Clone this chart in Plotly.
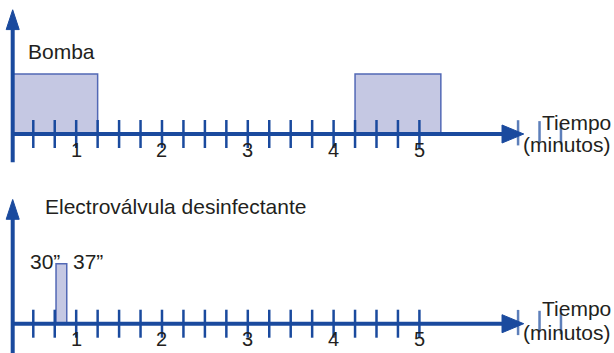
import plotly.graph_objects as go

# ---- data (minutes) ----
bomba_intervals = [(0.26, 1.25), (4.25, 5.25)]
valve_intervals = [(0.765, 0.89)]
tick_positions = [0.5, 0.75, 1.0, 1.25, 1.5, 1.75, 2.0, 2.25, 2.5, 2.75,
                  3.0, 3.25, 3.5, 3.75, 4.0, 4.25, 4.5, 4.75, 5.0]
extra_ticks = [6.15, 6.40, 6.65]
tick_labels = ["1", "2", "3", "4", "5"]
tick_label_values = [1, 2, 3, 4, 5]
valve_labels = ["30\u201d", "37\u201d"]

# ---- styling / geometry constants ----
AX = "#1a4a9e"
FILL = "#c5c8e3"
EDGE = "#5268b5"
TXT = "#231f20"
FONT = "Liberation Sans, Arial, sans-serif"
origin_x = 0.26
arrow_base_x, arrow_tip_x, arrow_half_h = 5.963, 6.216, 0.15
yarrow_base, yarrow_tip, yarrow_half_w = 1.74, 2.07, 0.076

fig = go.Figure()

panels = [("x", "y", bomba_intervals, -0.47), ("x2", "y2", valve_intervals, -0.6)]
for xa, ya, intervals, ybottom in panels:
    # boxes
    fig.add_trace(go.Bar(
        x=[(a + b) / 2 for a, b in intervals],
        y=[1.0] * len(intervals),
        width=[b - a for a, b in intervals],
        marker=dict(color=FILL, line=dict(color=EDGE, width=1.5)),
        xaxis=xa, yaxis=ya, showlegend=False, hoverinfo="skip"))
    # horizontal axis line
    fig.add_trace(go.Scatter(x=[origin_x, arrow_base_x + 0.02], y=[0, 0], mode="lines",
                             line=dict(color=AX, width=4), xaxis=xa, yaxis=ya,
                             showlegend=False, hoverinfo="skip"))
    # horizontal arrowhead
    fig.add_trace(go.Scatter(x=[arrow_base_x, arrow_tip_x, arrow_base_x, arrow_base_x],
                             y=[arrow_half_h, 0, -arrow_half_h, arrow_half_h],
                             mode="lines", fill="toself", fillcolor=AX,
                             line=dict(color=AX, width=1), xaxis=xa, yaxis=ya,
                             showlegend=False, hoverinfo="skip"))
    # vertical axis line
    fig.add_trace(go.Scatter(x=[origin_x, origin_x], y=[ybottom, yarrow_base + 0.02],
                             mode="lines", line=dict(color=AX, width=4),
                             xaxis=xa, yaxis=ya, showlegend=False, hoverinfo="skip"))
    # vertical arrowhead
    fig.add_trace(go.Scatter(x=[origin_x - yarrow_half_w, origin_x, origin_x + yarrow_half_w,
                                origin_x - yarrow_half_w],
                             y=[yarrow_base, yarrow_tip, yarrow_base, yarrow_base],
                             mode="lines", fill="toself", fillcolor=AX,
                             line=dict(color=AX, width=1), xaxis=xa, yaxis=ya,
                             showlegend=False, hoverinfo="skip"))
    # ticks
    fig.add_trace(go.Scatter(x=tick_positions, y=[0] * len(tick_positions), mode="markers",
                             marker=dict(symbol="line-ns", size=20,
                                         line=dict(color=AX, width=2.5)),
                             xaxis=xa, yaxis=ya, showlegend=False, hoverinfo="skip"))
    fig.add_trace(go.Scatter(x=extra_ticks, y=[0.02, 0.04, 0.0], mode="markers",
                             marker=dict(symbol="line-ns", size=[18, 15, 15],
                                         line=dict(color=AX, width=2.5)),
                             xaxis=xa, yaxis=ya, showlegend=False, hoverinfo="skip"))
    # tick labels
    for v, t in zip(tick_label_values, tick_labels):
        fig.add_annotation(x=v, y=-0.26, xref=xa, yref=ya, text=t, showarrow=False,
                           xanchor="center", yanchor="middle",
                           font=dict(family=FONT, size=20, color=TXT))

# axis titles
for xa, ya, yt, ym in [("x", "y", 0.19, -0.17), ("x2", "y2", 0.25, -0.15)]:
    fig.add_annotation(x=7.26, y=yt, xref=xa, yref=ya, text="Tiempo", showarrow=False,
                       xanchor="right", yanchor="middle",
                       font=dict(family=FONT, size=21, color=TXT))
    fig.add_annotation(x=7.26, y=ym, xref=xa, yref=ya, text="(minutos)", showarrow=False,
                       xanchor="right", yanchor="middle",
                       font=dict(family=FONT, size=21, color=TXT))

fig.add_annotation(x=0.42, y=1.367, xref="x", yref="y", text="Bomba", showarrow=False,
                   xanchor="left", yanchor="middle", font=dict(family=FONT, size=21, color=TXT))
fig.add_annotation(x=0.615, y=1.945, xref="x2", yref="y2", text="Electroválvula desinfectante",
                   showarrow=False, xanchor="left", yanchor="middle",
                   font=dict(family=FONT, size=21, color=TXT))
for xl, t in zip([0.44, 0.945], valve_labels):
    fig.add_annotation(x=xl, y=1.03, xref="x2", yref="y2", text=t, showarrow=False,
                       xanchor="left", yanchor="middle",
                       font=dict(family=FONT, size=21, color=TXT))

xr = [0.112, 7.268]
fig.update_layout(
    width=614, height=353, margin=dict(l=0, r=0, t=0, b=0),
    paper_bgcolor="white", plot_bgcolor="white", barmode="overlay",
    xaxis=dict(range=xr, visible=False, anchor="y"),
    xaxis2=dict(range=xr, visible=False, anchor="y2"),
    yaxis=dict(range=[-0.708, 2.233], domain=[0.5, 1], visible=False),
    yaxis2=dict(range=[-0.488, 2.453], domain=[0, 0.5], visible=False),
)

fig.write_html("out.html", config={"displayModeBar": False},
               post_script="document.body.style.margin='0';document.body.style.overflow='hidden';")
